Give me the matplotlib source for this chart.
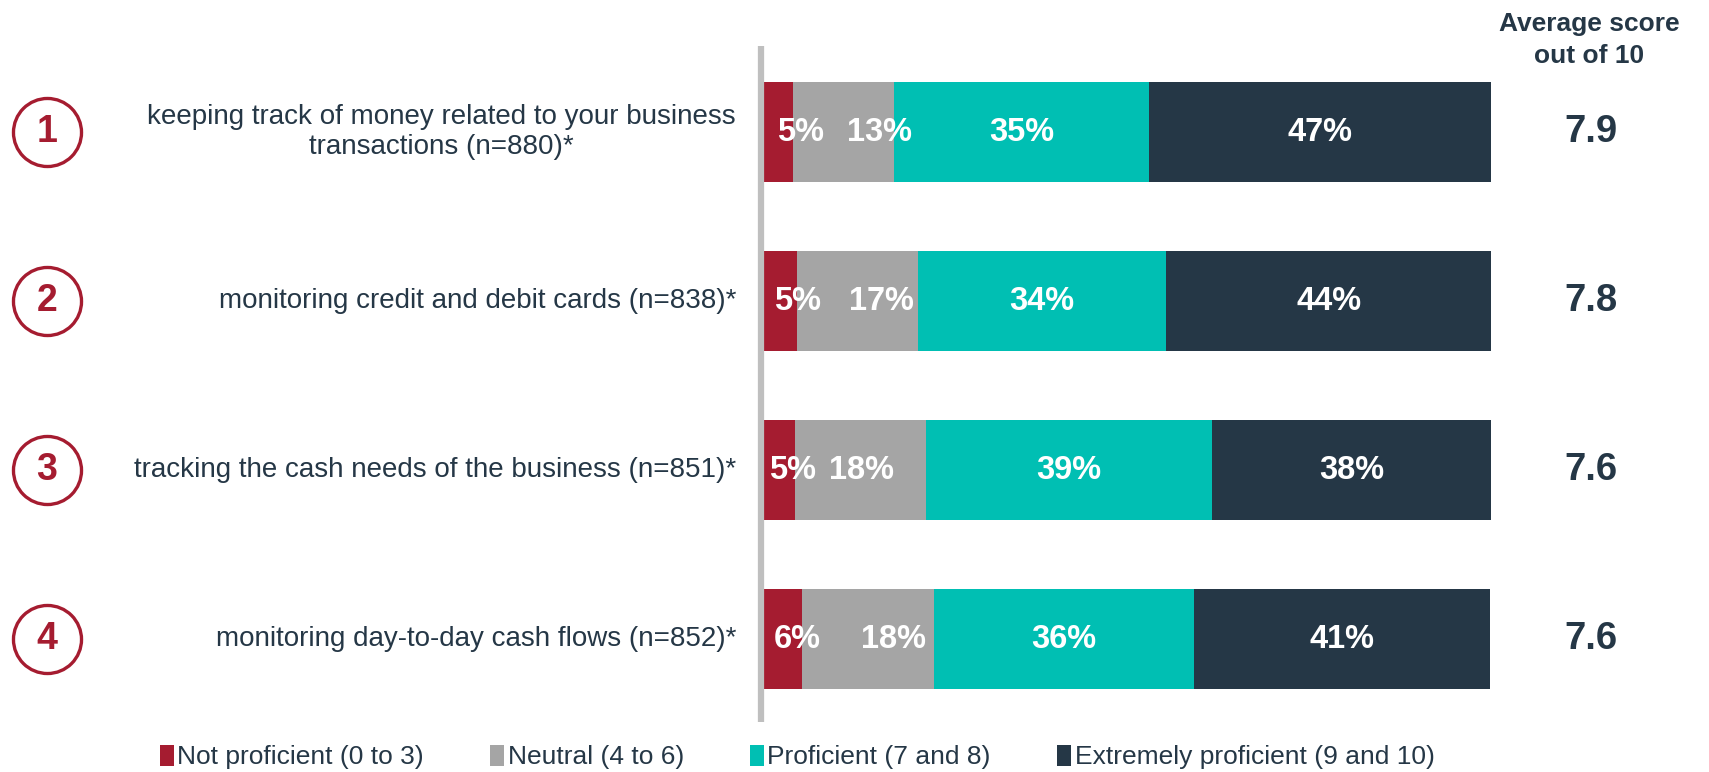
import matplotlib
matplotlib.use("Agg")
import matplotlib.pyplot as plt
import matplotlib.transforms as mtransforms
from matplotlib.patches import Patch

plt.rcParams['font.family'] = ['Liberation Sans', 'DejaVu Sans']

categories = [
    "keeping track of money related to your business\ntransactions (n=880)*",
    "monitoring credit and debit cards (n=838)*",
    "tracking the cash needs of the business (n=851)*",
    "monitoring day-to-day cash flows (n=852)*",
]
numbers = ["1", "2", "3", "4"]
series = ["Not proficient (0 to 3)", "Neutral (4 to 6)", "Proficient (7 and 8)",
          "Extremely proficient (9 and 10)"]
# segment widths as drawn (share of respondents, %)
not_prof = [4.0, 4.5, 4.2, 5.2]
neutral = [13.8, 16.6, 18.0, 18.1]
proficient = [35.2, 34.2, 39.4, 35.8]
extreme = [47.0, 44.7, 38.4, 40.8]
# labels as printed on the bars
not_prof_lbl = [5, 5, 5, 6]
neutral_lbl = [13, 17, 18, 18]
proficient_lbl = [35, 34, 39, 36]
extreme_lbl = [47, 44, 38, 41]
avg_score = [7.9, 7.8, 7.6, 7.6]

# small manual nudges of the first two labels (in % units)
red_pad = [1.8, 1.3, 0.6, 1.3]
grey_nudge = [5.0, 3.3, 0.2, 3.6]

colors = ['#A51C30', '#A5A5A5', '#00BFB3', '#253746']
navy = '#253746'
red = '#A51C30'

W, H = 1709, 772
fig = plt.figure(figsize=(W / 100, H / 100), dpi=100)
# bar area: x from ~757px to 1491px, y from 46px to 722px
ax = fig.add_axes([757 / W, 1 - 722 / H, (1491 - 757) / W, (722 - 46) / H])
ax.set_xlim(-1.0, 100)
ax.set_ylim(3.49, -0.51)
ax.axis('off')

ypos = list(range(len(categories)))
vals = [not_prof, neutral, proficient, extreme]
lbls = [not_prof_lbl, neutral_lbl, proficient_lbl, extreme_lbl]
left = [0.0] * len(categories)
for k in range(4):
    ax.barh(ypos, vals[k], left=left, height=0.59, color=colors[k], edgecolor='none')
    for i in ypos:
        txt = "%d%%" % lbls[k][i]
        if k == 0:
            ax.text(left[i] + red_pad[i], i, txt, ha='left', va='center', color='white',
                    fontsize=23.5, fontweight='bold')
        else:
            xc = left[i] + vals[k][i] / 2
            if k == 1:
                xc += grey_nudge[i]
            ax.text(xc, i, txt, ha='center', va='center', color='white',
                    fontsize=23.5, fontweight='bold')
    left = [left[i] + vals[k][i] for i in ypos]

# grey axis line
ax.axvline(-0.45, color='#BFBFBF', lw=4.5, ymin=0, ymax=1)

blend = mtransforms.blended_transform_factory(fig.transFigure, ax.transData)
for i in ypos:
    ax.text(736 / W, i, categories[i], transform=blend, ha='right', va='center',
            multialignment='center', fontsize=20, color=navy, linespacing=1.2)
    ax.text(47 / W, i, numbers[i], transform=blend, ha='center', va='center',
            fontsize=27, fontweight='bold', color=red)
    ax.text(1591 / W, i, "%.1f" % avg_score[i], transform=blend, ha='center',
            va='center', fontsize=27.5, fontweight='bold', color=navy)
ax.scatter([47 / W] * len(ypos), ypos, transform=blend, s=2400, facecolor='white',
           edgecolor=red, linewidth=2.4, clip_on=False, zorder=1)

fig.text(1589 / W, 1 - 40 / H, "Average score\nout of 10", ha='center', va='center',
         fontsize=19, fontweight='bold', color=navy, linespacing=1.4)

handles = [Patch(facecolor=c, edgecolor='none') for c in colors]
fig.legend(handles, series, loc='center', bbox_to_anchor=(797 / W, 15 / H), ncol=4,
           frameon=False, fontsize=19, handlelength=0.55, handleheight=0.85,
           handletextpad=0.12, columnspacing=2.5, labelcolor=navy, borderpad=0)

fig.savefig('out.png', dpi=100)
